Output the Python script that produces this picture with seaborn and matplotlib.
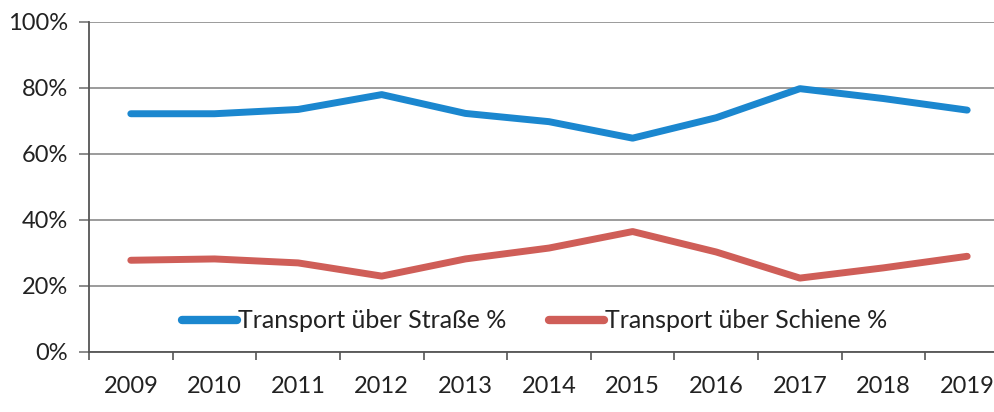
import matplotlib
matplotlib.use("Agg")
import matplotlib.pyplot as plt
import seaborn as sns
import pandas as pd
from matplotlib.ticker import FixedLocator, PercentFormatter

years = [2009, 2010, 2011, 2012, 2013, 2014, 2015, 2016, 2017, 2018, 2019]
strasse = [72.2, 72.2, 73.5, 78.0, 72.3, 69.8, 64.8, 71.0, 79.8, 76.8, 73.3]
schiene = [27.8, 28.2, 27.0, 23.0, 28.2, 31.5, 36.5, 30.3, 22.4, 25.5, 29.0]
series_names = ["Transport über Straße %", "Transport über Schiene %"]

df = pd.DataFrame({
    "Jahr": years * 2,
    "Wert": strasse + schiene,
    "Serie": [series_names[0]] * len(years) + [series_names[1]] * len(years),
})

sns.set_theme(style="white")
plt.rcParams['font.family'] = ['Lato', 'DejaVu Sans']

fig = plt.figure(figsize=(9.95, 4.12), dpi=100)
W, H = 995, 412
ax = fig.add_axes([89 / W, (H - 352) / H, (1009 - 89) / W, (352 - 22) / H])

palette = {series_names[0]: "#1B87CF", series_names[1]: "#CF5E58"}
sns.lineplot(data=df, x="Jahr", y="Wert", hue="Serie", palette=palette,
             linewidth=5, ax=ax, legend=True)
for ln in ax.lines:
    ln.set_solid_capstyle("round")
    ln.set_solid_joinstyle("round")

ax.set_xlim(2008.5, 2019.5)
ax.set_ylim(0, 100)
ax.set_xlabel("")
ax.set_ylabel("")

ax.set_yticks([0, 20, 40, 60, 80, 100])
ax.yaxis.set_major_formatter(PercentFormatter(decimals=0))
ax.set_xticks(years)
ax.set_xticklabels([str(y) for y in years])
ax.xaxis.set_minor_locator(FixedLocator([y - 0.5 for y in years] + [2019.5]))

ax.grid(axis="y", color="#8a8a8a", linewidth=1.2)
ax.grid(axis="x", visible=False)
ax.set_axisbelow(True)

for s in ["top", "right"]:
    ax.spines[s].set_visible(False)
for s in ["left", "bottom"]:
    ax.spines[s].set_visible(True)
    ax.spines[s].set_color("#555555")
    ax.spines[s].set_linewidth(1.3)

ax.tick_params(axis="y", which="major", length=7, width=1.2, color="#777777",
               direction="out", left=True, labelsize=17, labelcolor="#222222", pad=8)
ax.tick_params(axis="x", which="major", length=0, labelsize=17,
               labelcolor="#222222", pad=17)
ax.tick_params(axis="x", which="minor", length=6, width=1.2, color="#555555",
               direction="out", bottom=True)

leg = ax.legend(loc="center left", bbox_to_anchor=((182 - 89) / 920, (352 - 321) / 330),
                ncol=2, frameon=False, fontsize=18, handlelength=2.2,
                handletextpad=0.05, columnspacing=1.7, borderaxespad=0, borderpad=0)
for h in leg.get_lines():
    h.set_linewidth(6)
    h.set_solid_capstyle("round")
for t in leg.get_texts():
    t.set_color("#222222")

fig.savefig("out.png", dpi=100)
